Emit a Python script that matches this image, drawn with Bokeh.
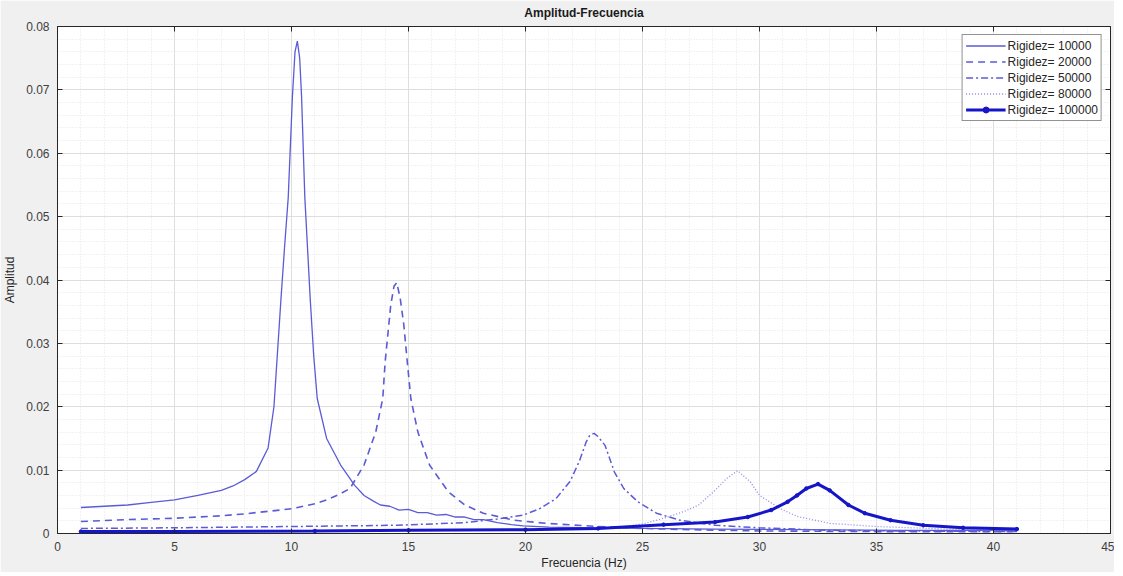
from bokeh.plotting import figure
from bokeh.models import (Range1d, LinearAxis, SingleIntervalTicker, CustomJSTickFormatter,
                          Legend, LegendItem, Title)
from bokeh.embed import file_html
from bokeh.resources import INLINE

# ---- data ----
f1 = [1, 2, 3, 4, 5, 6, 7, 7.5, 8, 8.5, 9, 9.25, 9.55, 9.7, 9.86, 10.04, 10.15, 10.25, 10.35,
      10.43, 10.57, 10.7, 10.8, 10.95, 11.1, 11.5, 12.1, 12.7, 13.1, 13.5, 13.8, 14.2, 14.6,
      15.0, 15.4, 15.8, 16.2, 16.6, 17.0, 17.4, 17.8, 18.2, 18.8, 19.4, 19.9, 21, 23, 25, 28,
      32, 36, 41]
a1 = [0.0041, 0.0043, 0.0045, 0.0049, 0.0053, 0.0060, 0.0068, 0.0075, 0.0085, 0.0098, 0.0135,
      0.0200, 0.0370, 0.0450, 0.0530, 0.0690, 0.0760, 0.0777, 0.0750, 0.0690, 0.0530, 0.0440,
      0.0370, 0.0280, 0.0213, 0.0150, 0.0108, 0.0076, 0.0060, 0.0051, 0.0045, 0.0043, 0.0037,
      0.0038, 0.0033, 0.0033, 0.0029, 0.0030, 0.0026, 0.0026, 0.0022, 0.0022, 0.0017, 0.0014,
      0.0012, 0.0010, 0.0009, 0.0008, 0.0007, 0.0006, 0.0005, 0.0005]

f2 = [1, 3, 5, 7, 8, 9, 10, 11, 11.5, 12, 12.5, 13.1, 13.6, 13.9, 14.0, 14.24, 14.38, 14.5,
      14.65, 14.8, 14.95, 15.1, 15.4, 15.9, 16.7, 17.4, 18.2, 19.5, 20.9, 23.1, 25, 27, 30, 35, 41]
a2 = [0.0019, 0.0022, 0.0024, 0.0028, 0.0031, 0.0035, 0.0039, 0.0047, 0.0053, 0.0061, 0.0071,
      0.0108, 0.0160, 0.0213, 0.0270, 0.0360, 0.0390, 0.0396, 0.0370, 0.0329, 0.0270, 0.0213,
      0.0160, 0.0108, 0.0066, 0.0045, 0.0032, 0.0021, 0.0016, 0.0011, 0.0008, 0.0006, 0.0004,
      0.0003, 0.0003]

f3 = [1, 5, 10, 14.5, 17.4, 18.8, 19.9, 20.6, 21.3, 21.9, 22.3, 22.6, 22.75, 22.93, 23.1, 23.4,
      23.8, 24.2, 24.8, 25.6, 26.6, 28.1, 30, 33, 36, 41]
a3 = [0.0008, 0.0009, 0.0011, 0.0013, 0.0017, 0.0023, 0.0029, 0.0039, 0.0055, 0.0082, 0.0114,
      0.0145, 0.0155, 0.0158, 0.0153, 0.0139, 0.0097, 0.0071, 0.0050, 0.0032, 0.0021, 0.0013,
      0.0009, 0.0005, 0.0004, 0.0003]

f4 = [1, 5, 10, 15, 20, 23, 24, 25, 25.9, 26.8, 27.4, 28.1, 28.6, 29.06, 29.6, 30.0, 30.9, 31.6,
      33.0, 35.0, 38, 41]
a4 = [0.0004, 0.0004, 0.0005, 0.0005, 0.0006, 0.0008, 0.0010, 0.0015, 0.0024, 0.0035, 0.0045,
      0.0068, 0.0087, 0.0099, 0.0082, 0.0060, 0.0039, 0.0027, 0.0016, 0.0011, 0.0007, 0.0005]

f5 = [1, 5, 11, 15, 20, 23.1, 25.9, 28.1, 29.5, 30.5, 31.2, 31.6, 32.0, 32.5, 33.0, 33.8, 34.5,
      35.6, 37.0, 38.7, 41]
a5 = [0.0003, 0.0003, 0.0004, 0.0005, 0.0006, 0.0008, 0.0014, 0.0018, 0.0026, 0.0037, 0.0050,
      0.0060, 0.0071, 0.0078, 0.0068, 0.0045, 0.0032, 0.0021, 0.0013, 0.0009, 0.0007]

labels = ["Rigidez= 10000", "Rigidez= 20000", "Rigidez= 50000", "Rigidez= 80000", "Rigidez= 100000"]

FONT = "Liberation Sans"
BG = "#f0f0f0"

p = figure(frame_width=1053, frame_height=507, output_backend="svg", toolbar_location=None,
           x_range=Range1d(0, 45), y_range=Range1d(0, 0.08),
           min_border_left=52, min_border_right=2, min_border_top=0, min_border_bottom=0)
p.border_fill_color = BG
p.background_fill_color = "white"
p.outline_line_color = "#262626"
p.outline_line_width = 1

p.title = Title(text="Amplitud-Frecuencia", align="center", text_font=FONT,
                text_font_size="12px", text_font_style="bold", text_color="#1a1a1a",
                offset=0, standoff=6)

xt = SingleIntervalTicker(interval=5, num_minor_ticks=5)
yt = SingleIntervalTicker(interval=0.01, num_minor_ticks=5)
p.xaxis.ticker = xt
p.yaxis.ticker = yt
p.yaxis.formatter = CustomJSTickFormatter(code="return Math.abs(tick) < 1e-9 ? '0' : tick.toFixed(2);")

for ax in (p.xaxis[0], p.yaxis[0]):
    ax.major_tick_in = 5
    ax.major_tick_out = 0
    ax.minor_tick_line_color = None
    ax.axis_line_color = "#262626"
    ax.major_tick_line_color = "#262626"
    ax.major_label_text_font = FONT
    ax.major_label_text_font_size = "12px"
    ax.major_label_text_color = "#404040"
    ax.axis_label_text_font = FONT
    ax.axis_label_text_font_size = "12px"
    ax.axis_label_text_font_style = "normal"
    ax.axis_label_text_color = "#262626"

p.xaxis.axis_label = "Frecuencia (Hz)"
p.yaxis.axis_label = "Amplitud"
p.xaxis.major_label_standoff = 4
p.xaxis.axis_label_standoff = 2
p.yaxis.major_label_standoff = 4
p.yaxis.axis_label_standoff = 6

top = LinearAxis(ticker=xt, major_tick_in=5, major_tick_out=0, minor_tick_line_color=None,
                 major_label_text_font_size="0px", major_label_standoff=0,
                 axis_line_color="#262626", major_tick_line_color="#262626")
right = LinearAxis(ticker=yt, major_tick_in=5, major_tick_out=0, minor_tick_line_color=None,
                   major_label_text_font_size="0px", major_label_standoff=0,
                   axis_line_color="#262626", major_tick_line_color="#262626")
p.add_layout(top, "above")
p.add_layout(right, "right")

p.xgrid.grid_line_color = "#dedede"
p.ygrid.grid_line_color = "#dedede"
p.xgrid.minor_grid_line_color = "#e4e4e4"
p.ygrid.minor_grid_line_color = "#e4e4e4"
p.xgrid.minor_grid_line_dash = "1 2"
p.ygrid.minor_grid_line_dash = "1 2"

c_thin = "#5b5bd6"
r1 = p.line(f1, a1, line_color=c_thin, line_width=1.3)
r2 = p.line(f2, a2, line_color=c_thin, line_width=1.6, line_dash="7 5")
r3 = p.line(f3, a3, line_color=c_thin, line_width=1.5, line_dash="7 3 2 3")
r4 = p.line(f4, a4, line_color="#8c8ce6", line_width=1.3, line_dash="1 2")
r5 = p.line(f5, a5, line_color="#1616c8", line_width=3)
r5m = p.scatter(f5, a5, marker="circle", size=3.5, color="#1616c8")

legend = Legend(items=[LegendItem(label=labels[0], renderers=[r1]),
                       LegendItem(label=labels[1], renderers=[r2]),
                       LegendItem(label=labels[2], renderers=[r3]),
                       LegendItem(label=labels[3], renderers=[r4]),
                       LegendItem(label=labels[4], renderers=[r5, r5m])],
                location="top_right")
legend.label_text_font = FONT
legend.label_text_font_size = "12px"
legend.label_text_color = "#262626"
legend.label_height = 15
legend.glyph_height = 15
legend.glyph_width = 40
legend.label_standoff = 2
legend.spacing = 1
legend.padding = 3
legend.margin = 8
legend.border_line_color = "#262626"
legend.border_line_width = 1
legend.background_fill_color = "white"
legend.background_fill_alpha = 1
p.add_layout(legend)

open("out.html", "w").write(file_html(p, INLINE))
